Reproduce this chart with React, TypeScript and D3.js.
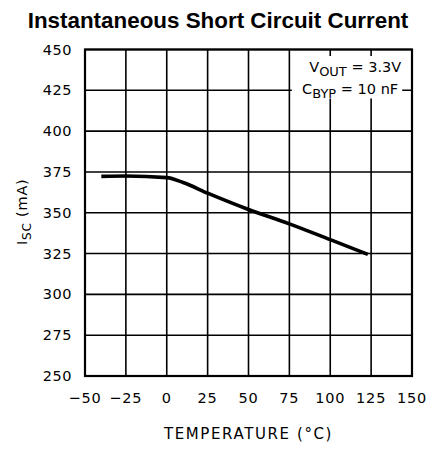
import React from "react";
import * as d3 from "d3";

// curve
const temps = [-40, -25, 0, 10, 25, 50, 75, 100, 123];
const iscValues = [372.3, 372.5, 371.5, 368.5, 362, 352, 343.2, 333.5, 324.5];

const xTicks = [-50, -25, 0, 25, 50, 75, 100, 125, 150];
const yTicks = [250, 275, 300, 325, 350, 375, 400, 425, 450];

const W = 434;
const H = 449;
const margin = { top: 49.5, right: 22, bottom: 73, left: 85 };
const tickFont = "'DejaVu Sans', sans-serif";

export default function App() {
  const innerW = W - margin.left - margin.right;
  const innerH = H - margin.top - margin.bottom;

  const x = d3.scaleLinear().domain([-50, 150]).range([0, innerW]);
  const y = d3.scaleLinear().domain([250, 450]).range([innerH, 0]);

  const line = d3
    .line<number>()
    .x((d, i) => x(temps[i]))
    .y((d) => y(d))
    .curve(d3.curveMonotoneX);

  // legend box that hides the grid behind it
  const box = { x0: x(76.5), x1: x(144), y0: y(446), y1: y(420) };

  return (
    <div style={{ position: "absolute", left: 0, top: 0 }}>
      <svg width={W} height={H} style={{ display: "block", background: "#fff" }}>
        <text
          x={218}
          y={27.5}
          textAnchor="middle"
          fontFamily="'Liberation Sans', Arial, sans-serif"
          fontWeight="bold"
          fontSize={22.4}
          fill="#000"
        >
          Instantaneous Short Circuit Current
        </text>

        <g transform={`translate(${margin.left},${margin.top})`}>
          {/* grid */}
          {xTicks.map((t) => (
            <line key={"vx" + t} x1={x(t)} x2={x(t)} y1={0} y2={innerH} stroke="#000" strokeWidth={1.6} />
          ))}
          {yTicks.map((t) => (
            <line key={"hy" + t} x1={0} x2={innerW} y1={y(t)} y2={y(t)} stroke="#000" strokeWidth={1.6} />
          ))}

          {/* legend */}
          <rect x={box.x0} y={box.y0} width={box.x1 - box.x0} height={box.y1 - box.y0} fill="#fff" />
          <text x={box.x1 - 1} y={y(436)} textAnchor="end" fontFamily={tickFont} fontSize={14.5} fill="#000">
            V<tspan fontSize={13} dy={4}>OUT</tspan>
            <tspan dy={-4}> = 3.3V</tspan>
          </text>
          <text x={box.x1 - 4} y={y(422.5)} textAnchor="end" fontFamily={tickFont} fontSize={14.5} fill="#000">
            C<tspan fontSize={13} dy={4}>BYP</tspan>
            <tspan dy={-4}> = 10 nF</tspan>
          </text>

          <rect x={0} y={0} width={innerW} height={innerH} fill="none" stroke="#000" strokeWidth={2.2} />

          {/* data */}
          <path d={line(iscValues) || ""} fill="none" stroke="#000" strokeWidth={3.6} />

          {/* y tick labels */}
          {yTicks.map((t) => (
            <text
              key={"yl" + t}
              x={-13}
              y={y(t)}
              dy="0.35em"
              textAnchor="end"
              fontFamily={tickFont}
              fontSize={14.5}
              letterSpacing={0.5}
              fill="#000"
            >
              {t}
            </text>
          ))}

          {/* x tick labels */}
          {xTicks.map((t) => (
            <text
              key={"xl" + t}
              x={x(t)}
              y={innerH + 22}
              dy="0.35em"
              textAnchor="middle"
              fontFamily={tickFont}
              fontSize={14.5}
              letterSpacing={0.8}
              fill="#000"
            >
              {t < 0 ? "\u2212" + Math.abs(t) : t}
            </text>
          ))}

          <text
            x={innerW / 2}
            y={innerH + 58}
            dy="0.35em"
            textAnchor="middle"
            fontFamily={tickFont}
            fontSize={15}
            letterSpacing={1.6}
            fill="#000"
          >
            TEMPERATURE (°C)
          </text>

          <text
            transform={`translate(${-63},${innerH / 2 - 1}) rotate(-90)`}
            textAnchor="middle"
            dy="0.35em"
            fontFamily={tickFont}
            fontSize={14.5}
            letterSpacing={0.8}
            fill="#000"
          >
            I<tspan fontSize={12} dy={4}>SC</tspan>
            <tspan dy={-4}>  (mA)</tspan>
          </text>
        </g>
      </svg>
    </div>
  );
}
